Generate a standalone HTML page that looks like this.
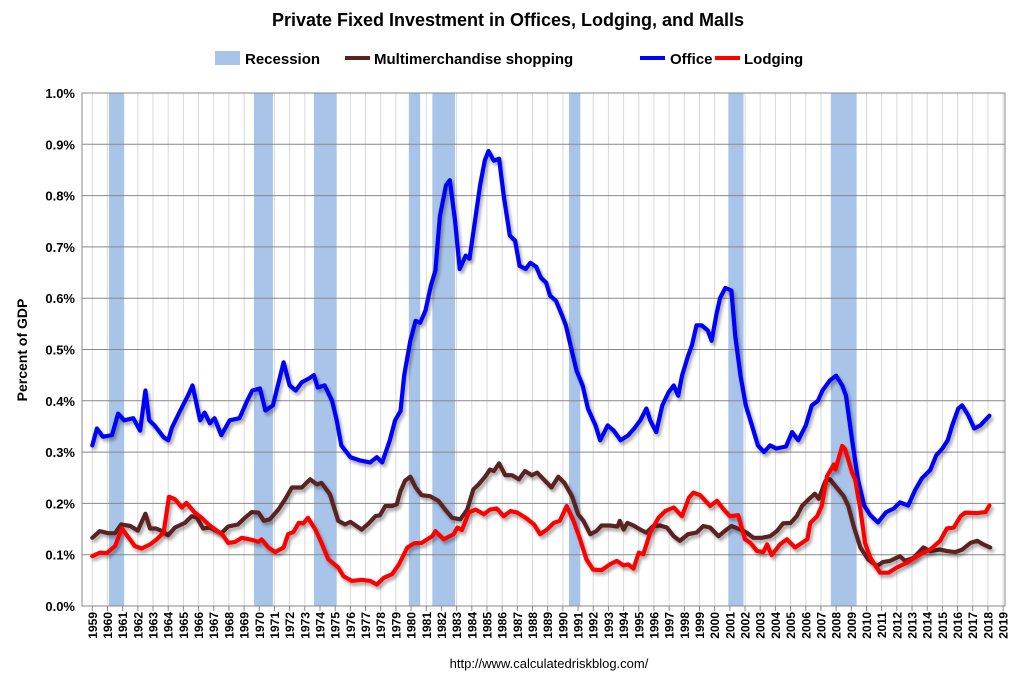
<!DOCTYPE html>
<html><head><meta charset="utf-8"><style>
body{margin:0;background:#fff;}
svg{display:block;font-family:"Liberation Sans",sans-serif;}
</style></head><body>
<svg id="chart" width="1015" height="680" viewBox="0 0 1015 680">
<defs><filter id="sh" x="-5%" y="-5%" width="110%" height="110%"><feGaussianBlur in="SourceAlpha" stdDeviation="1.5"/><feOffset dx="2" dy="3"/><feComponentTransfer><feFuncA type="linear" slope="0.35"/></feComponentTransfer><feMerge><feMergeNode/><feMergeNode in="SourceGraphic"/></feMerge></filter></defs>
<text x="508" y="26" text-anchor="middle" font-size="18" font-weight="bold" fill="#000">Private Fixed Investment in Offices, Lodging, and Malls</text>
<g font-size="15" font-weight="bold" fill="#000">
<rect x="215" y="51" width="25" height="14" fill="#a9c4e9"/>
<text x="245" y="64">Recession</text>
<line x1="345" y1="58" x2="370" y2="58" stroke="#5b2121" stroke-width="4"/>
<text x="374" y="64">Multimerchandise shopping</text>
<line x1="640" y1="58" x2="665" y2="58" stroke="#0000ff" stroke-width="4"/>
<text x="670" y="64">Office</text>
<line x1="715" y1="58" x2="740" y2="58" stroke="#ff0000" stroke-width="4"/>
<text x="744" y="64">Lodging</text>
</g>
<text transform="translate(27,350) rotate(-90)" text-anchor="middle" font-size="14" font-weight="bold">Percent of GDP</text>
<g id="plot"></g>
<text x="549" y="668" text-anchor="middle" font-size="13">http://www.calculatedriskblog.com/</text>
</svg>
<script>
const recessions=[[1960.1,1961.1],[1969.65,1970.9],[1973.6,1975.1],[1979.85,1980.6],[1981.4,1982.9],[1990.4,1991.15],[2000.9,2001.9],[2007.65,2009.35]];
const yTicks=[0,0.1,0.2,0.3,0.4,0.5,0.6,0.7,0.8,0.9,1.0];
const yTickLabels=["0.0%","0.1%","0.2%","0.3%","0.4%","0.5%","0.6%","0.7%","0.8%","0.9%","1.0%"];
const xYears=[];for(let y=1959;y<=2019;y++)xYears.push(y);
const officeYears=[1959.0,1959.3,1959.7,1960.3,1960.7,1961.1,1961.7,1962.15,1962.5,1962.75,1963.1,1963.7,1964.0,1964.25,1964.8,1965.3,1965.6,1966.1,1966.4,1966.75,1967.05,1967.5,1968.05,1968.7,1969.2,1969.55,1970.05,1970.4,1970.9,1971.6,1972.0,1972.4,1972.8,1973.3,1973.6,1973.85,1974.3,1974.8,1975.1,1975.4,1976.0,1976.6,1977.3,1977.75,1978.1,1978.6,1978.95,1979.3,1979.55,1979.95,1980.3,1980.6,1980.95,1981.3,1981.6,1981.9,1982.3,1982.55,1982.9,1983.2,1983.6,1983.85,1984.3,1984.55,1984.85,1985.1,1985.45,1985.8,1986.1,1986.5,1986.85,1987.15,1987.55,1987.85,1988.25,1988.55,1988.9,1989.15,1989.55,1989.95,1990.2,1990.5,1990.9,1991.3,1991.65,1992.15,1992.45,1992.95,1993.35,1993.8,1994.3,1994.7,1995.1,1995.5,1995.75,1996.15,1996.55,1996.95,1997.3,1997.6,1997.85,1998.25,1998.5,1998.8,1999.15,1999.55,1999.8,2000.1,2000.35,2000.7,2001.1,2001.35,2001.7,2002.05,2002.45,2002.85,2003.25,2003.65,2004.05,2004.7,2005.1,2005.5,2006.0,2006.4,2006.8,2007.1,2007.6,2008.0,2008.4,2008.65,2009.05,2009.45,2009.85,2010.25,2010.75,2011.3,2011.8,2012.2,2012.75,2013.2,2013.65,2014.2,2014.6,2015.0,2015.35,2015.65,2016.05,2016.3,2016.7,2017.1,2017.5,2018.1];
const officeValues=[0.313,0.346,0.33,0.333,0.375,0.362,0.366,0.342,0.42,0.362,0.352,0.329,0.323,0.348,0.381,0.41,0.43,0.362,0.377,0.356,0.366,0.333,0.362,0.366,0.40,0.42,0.424,0.381,0.391,0.475,0.43,0.42,0.436,0.444,0.45,0.426,0.43,0.40,0.362,0.313,0.29,0.284,0.28,0.29,0.28,0.323,0.362,0.38,0.45,0.517,0.556,0.552,0.576,0.624,0.654,0.76,0.82,0.83,0.75,0.657,0.683,0.677,0.77,0.82,0.868,0.887,0.868,0.872,0.80,0.722,0.712,0.663,0.657,0.669,0.661,0.64,0.63,0.605,0.595,0.566,0.547,0.508,0.459,0.43,0.385,0.352,0.323,0.352,0.342,0.323,0.333,0.346,0.362,0.385,0.362,0.339,0.391,0.416,0.43,0.41,0.449,0.488,0.508,0.547,0.547,0.537,0.517,0.566,0.60,0.62,0.615,0.527,0.449,0.391,0.352,0.313,0.30,0.313,0.307,0.311,0.339,0.323,0.352,0.391,0.40,0.42,0.44,0.449,0.43,0.41,0.323,0.245,0.196,0.177,0.163,0.183,0.19,0.202,0.196,0.226,0.249,0.265,0.294,0.307,0.323,0.352,0.385,0.391,0.372,0.346,0.352,0.371];
const mallYears=[1959.0,1959.5,1960.05,1960.5,1960.9,1961.5,1962.0,1962.5,1962.8,1963.2,1963.6,1964.0,1964.45,1965.1,1965.55,1965.9,1966.3,1966.75,1967.2,1967.5,1967.95,1968.6,1969.05,1969.5,1969.95,1970.3,1970.7,1971.25,1971.7,1972.15,1972.8,1973.35,1973.8,1974.1,1974.65,1975.2,1975.65,1976.0,1976.75,1977.2,1977.65,1977.95,1978.3,1978.75,1979.05,1979.3,1979.6,1979.95,1980.3,1980.7,1981.25,1981.8,1982.25,1982.7,1983.25,1983.7,1984.1,1984.45,1984.9,1985.2,1985.45,1985.8,1986.2,1986.65,1987.1,1987.5,1987.95,1988.3,1988.7,1989.25,1989.7,1990.1,1990.6,1991.0,1991.35,1991.8,1992.2,1992.55,1993.1,1993.6,1993.75,1994.0,1994.25,1994.65,1995.1,1995.5,1995.95,1996.4,1996.85,1997.3,1997.7,1998.25,1998.8,1999.25,1999.7,2000.25,2000.7,2001.1,2001.7,2002.1,2002.55,2003.1,2003.65,2004.1,2004.5,2005.0,2005.4,2005.75,2006.3,2006.6,2006.85,2007.3,2007.6,2007.95,2008.5,2008.8,2009.15,2009.6,2010.1,2010.7,2011.1,2011.55,2012.2,2012.55,2013.1,2013.75,2014.2,2014.85,2015.3,2015.85,2016.3,2016.85,2017.3,2017.7,2018.15];
const mallValues=[0.133,0.146,0.142,0.142,0.159,0.156,0.147,0.18,0.151,0.151,0.146,0.138,0.153,0.162,0.175,0.172,0.151,0.153,0.146,0.142,0.155,0.159,0.172,0.183,0.182,0.166,0.169,0.188,0.208,0.231,0.231,0.247,0.237,0.24,0.218,0.166,0.159,0.164,0.149,0.161,0.175,0.177,0.195,0.195,0.198,0.224,0.244,0.252,0.231,0.216,0.214,0.205,0.188,0.172,0.169,0.188,0.227,0.237,0.253,0.266,0.263,0.278,0.255,0.255,0.247,0.263,0.255,0.26,0.248,0.231,0.252,0.24,0.214,0.179,0.166,0.14,0.146,0.157,0.157,0.155,0.166,0.149,0.162,0.157,0.149,0.143,0.156,0.157,0.153,0.136,0.127,0.14,0.143,0.156,0.153,0.136,0.147,0.156,0.149,0.143,0.133,0.133,0.136,0.146,0.161,0.162,0.175,0.195,0.211,0.219,0.209,0.244,0.247,0.234,0.214,0.195,0.156,0.114,0.091,0.078,0.086,0.088,0.097,0.088,0.094,0.114,0.107,0.11,0.107,0.105,0.11,0.123,0.127,0.12,0.114];
const lodgingYears=[1959.0,1959.5,1959.95,1960.5,1960.95,1961.4,1961.8,1962.25,1962.8,1963.25,1963.7,1964.05,1964.45,1964.9,1965.2,1965.75,1966.2,1966.65,1967.1,1967.55,1967.95,1968.4,1968.85,1969.5,1969.95,1970.15,1970.6,1971.05,1971.6,1971.9,1972.25,1972.6,1972.9,1973.2,1973.7,1974.1,1974.55,1975.2,1975.55,1976.1,1976.75,1977.3,1977.75,1978.2,1978.75,1979.2,1979.75,1980.2,1980.7,1981.4,1981.6,1982.15,1982.8,1983.05,1983.35,1983.8,1984.25,1984.8,1985.2,1985.65,1986.1,1986.55,1987.0,1987.55,1988.1,1988.5,1988.95,1989.4,1989.8,1990.25,1990.7,1991.1,1991.55,1992.0,1992.55,1993.1,1993.55,1994.0,1994.3,1994.65,1995.0,1995.3,1995.75,1996.3,1996.75,1997.3,1997.85,1998.3,1998.6,1999.05,1999.7,2000.15,2000.6,2001.0,2001.55,2002.0,2002.35,2002.8,2003.2,2003.45,2003.75,2004.3,2004.75,2005.3,2006.1,2006.3,2006.75,2007.05,2007.4,2007.85,2007.95,2008.4,2008.6,2009.05,2009.25,2009.6,2009.9,2010.25,2010.9,2011.45,2012.0,2012.65,2013.55,2014.2,2014.85,2015.3,2015.75,2016.2,2016.5,2017.3,2017.85,2018.1];
const lodgingValues=[0.097,0.104,0.103,0.117,0.151,0.133,0.117,0.112,0.12,0.13,0.143,0.213,0.208,0.192,0.201,0.182,0.172,0.159,0.149,0.14,0.123,0.125,0.133,0.129,0.125,0.13,0.114,0.105,0.114,0.14,0.144,0.162,0.161,0.172,0.149,0.123,0.091,0.075,0.058,0.049,0.051,0.049,0.042,0.055,0.062,0.081,0.114,0.122,0.123,0.136,0.146,0.13,0.14,0.153,0.148,0.182,0.188,0.179,0.188,0.19,0.175,0.185,0.182,0.172,0.159,0.14,0.149,0.162,0.166,0.195,0.166,0.133,0.091,0.071,0.07,0.081,0.088,0.079,0.081,0.073,0.104,0.101,0.143,0.172,0.185,0.192,0.175,0.211,0.221,0.216,0.195,0.205,0.188,0.175,0.177,0.13,0.123,0.107,0.105,0.12,0.099,0.12,0.13,0.114,0.13,0.162,0.175,0.195,0.253,0.276,0.266,0.312,0.305,0.26,0.247,0.188,0.123,0.094,0.065,0.065,0.075,0.084,0.101,0.11,0.127,0.151,0.153,0.175,0.182,0.181,0.183,0.196];

const NS="http://www.w3.org/2000/svg";
const plot=document.getElementById('plot');
const L=82,R=1005,T=93,B=606;
const xs=y=>92.3+(y-1959)*15.18;
const ys=v=>B-(v/1.0)*(B-T);
function mk(tag,attrs,parent){const e=document.createElementNS(NS,tag);for(const k in attrs)e.setAttribute(k,attrs[k]);(parent||plot).appendChild(e);return e;}
xYears.forEach(y=>{const g=mk('line',{x1:xs(y),x2:xs(y),y1:T,y2:B,stroke:'#d9d9d9','stroke-width':1});

});
recessions.forEach(r=>{const e=mk('rect',{x:xs(r[0]),y:T,width:xs(r[1])-xs(r[0]),height:B-T,fill:'#a9c4e9'});

});
yTicks.forEach((v,i)=>{const g=mk('line',{x1:L,x2:R,y1:ys(v),y2:ys(v),stroke:'#888','stroke-width':1});


const t=mk('text',{x:75,y:ys(v)+5,'text-anchor':'end','font-size':13,'font-weight':'bold'});t.textContent=yTickLabels[i];

});
const fr=mk('rect',{x:L,y:T,width:R-L,height:B-T,fill:'none',stroke:'#888','stroke-width':1});


xYears.forEach(y=>{const tk=mk('line',{x1:xs(y),x2:xs(y),y1:B,y2:B+5,stroke:'#888'});


const t=mk('text',{transform:`translate(${xs(y)+4.5},${B+6}) rotate(-90)`,'text-anchor':'end','font-size':12,'font-weight':'bold'});t.textContent=y;

});
function line(xa,va,color,name){const d=xa.map((y,i)=>(i?'L':'M')+xs(y).toFixed(1)+','+ys(va[i]).toFixed(1)).join('');
const p=mk('path',{d:d,fill:'none',stroke:color,'stroke-width':4.2,'stroke-linejoin':'round','stroke-linecap':'round',filter:'url(#sh)'});

}
line(mallYears,mallValues,'#5b2121','multimerchandise-line');
line(officeYears,officeValues,'#0000ff','office-line');
line(lodgingYears,lodgingValues,'#ff0000','lodging-line');
</script>
</body></html>
